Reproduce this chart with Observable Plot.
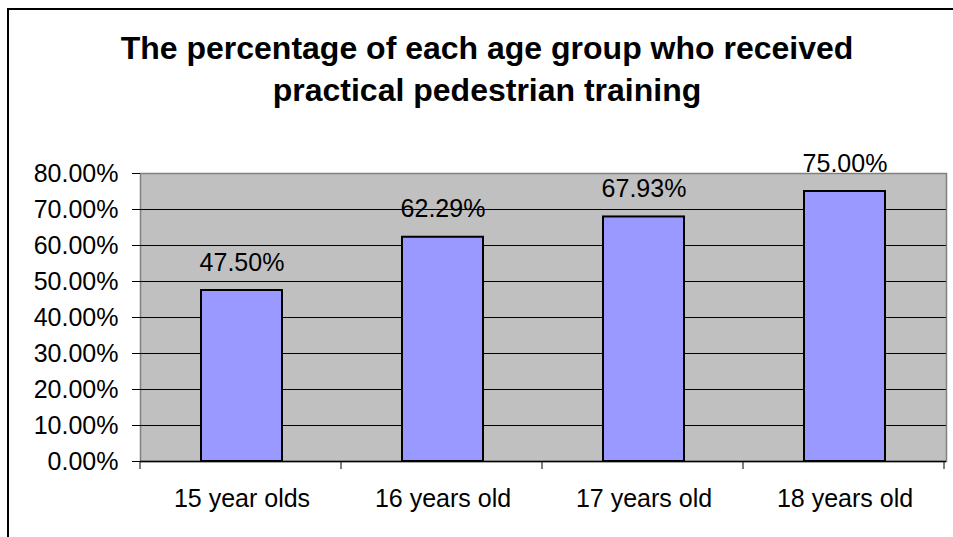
<!DOCTYPE html>
<html>
<head>
<meta charset="utf-8">
<script src="https://cdn.jsdelivr.net/npm/d3@7"></script>
<script src="https://cdn.jsdelivr.net/npm/@observablehq/plot@0.6"></script>
<style>
  html, body { margin: 0; padding: 0; background: white; }
  #wrap { position: relative; width: 953px; height: 537px; overflow: hidden; background: white; font-family: "Liberation Sans", Arial, sans-serif; }
  #title { height: 120px; box-sizing: border-box; padding-top: 27px; padding-left: 21px; text-align: center; font-weight: bold; font-size: 32px; line-height: 42px; color: black; }
  #border { position: absolute; left: 7px; top: 8px; width: 1000px; height: 1000px; border-top: 2px solid black; border-left: 2px solid black; pointer-events: none; }
  svg { display: block; }
</style>
</head>
<body>
<div id="wrap">
  <div id="title">The percentage of each age group who received<br>practical pedestrian training</div>
  <div id="chart"></div>
  <div id="border"></div>
</div>
<script>
const categories = ["15 year olds", "16 years old", "17 years old", "18 years old"];
const values = [0.4750, 0.6229, 0.6793, 0.7500];
const yTicks = [0, 0.1, 0.2, 0.3, 0.4, 0.5, 0.6, 0.7, 0.8];
const gridValues = [0.1, 0.2, 0.3, 0.4, 0.5, 0.6, 0.7];

const data = categories.map((c, i) => ({cat: c, value: values[i]}));
const pct = d3.format(".2%");

const plot = Plot.plot({
  width: 953,
  height: 417,
  marginLeft: 140,
  marginRight: 7,
  marginTop: 53,
  marginBottom: 76,
  style: {background: "transparent", fontFamily: "'Liberation Sans', Arial, sans-serif", fontSize: "25px", color: "black", overflow: "visible"},
  x: {domain: categories, padding: 0, label: null},
  y: {domain: [0, 0.8], label: null},
  marks: [
    Plot.frame({fill: "#c0c0c0", stroke: "#808080", strokeWidth: 1.5}),
    Plot.ruleY(gridValues, {stroke: "black", strokeWidth: 1}),
    Plot.barY(data, {x: "cat", y: "value", fill: "#9999ff", stroke: "black", strokeWidth: 2, insetLeft: 60, insetRight: 60}),
    Plot.ruleY([0], {stroke: "black", strokeWidth: 1.5}),
    Plot.axisY({ticks: yTicks, tickFormat: pct, tickSize: 8, tickPadding: 14, fontSize: 25}),
    Plot.axisX({tickSize: 0, tickPadding: 28, fontSize: 25}),
    Plot.text(data, {x: "cat", y: "value", text: d => pct(d.value), dy: -28, fontSize: 25, fill: "black"})
  ]
});

document.getElementById("chart").appendChild(plot);

// category boundary ticks on the x axis, from the library's own scales
const xs = plot.scale("x");
const ys = plot.scale("y");
const y0 = ys.apply(0);
const bounds = d3.range(categories.length + 1).map(i => xs.range[0] + i * xs.step);
d3.select(plot).append("g")
  .selectAll("line")
  .data(bounds)
  .join("line")
  .attr("x1", d => d).attr("x2", d => d)
  .attr("y1", y0).attr("y2", y0 + 8)
  .attr("stroke", "black").attr("stroke-width", 1);
</script>
</body>
</html>
